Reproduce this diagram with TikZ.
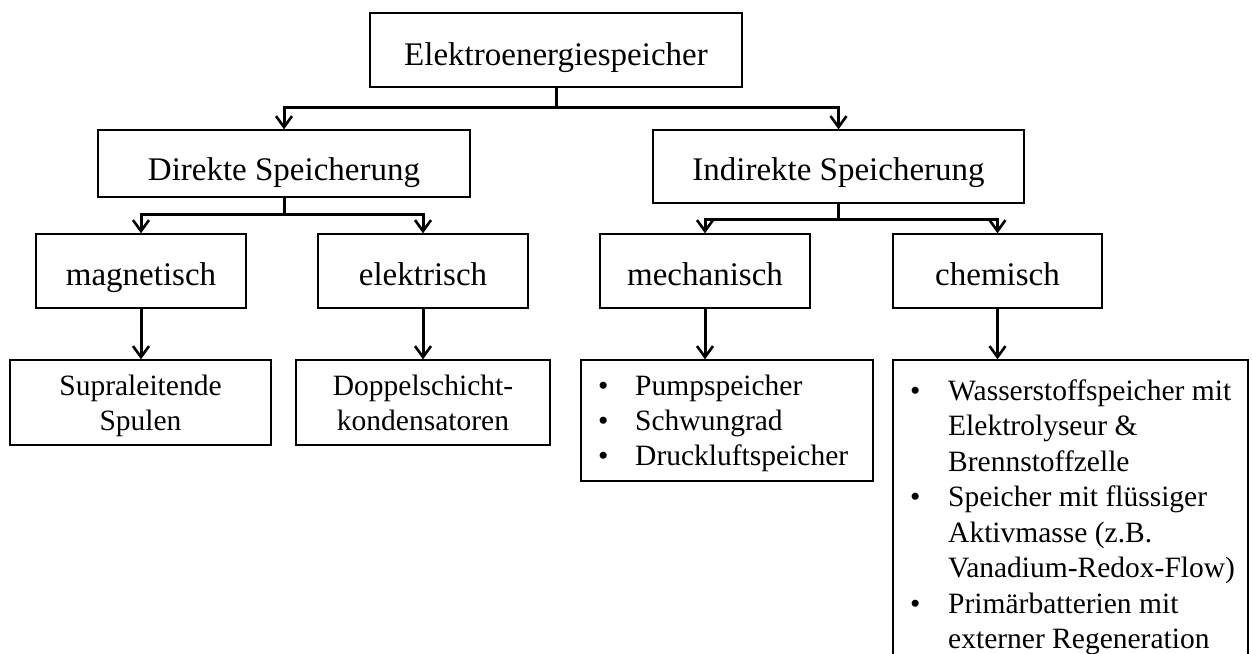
\documentclass[tikz,border=0pt]{standalone}
\usepackage{fontspec}
\setmainfont{Liberation Serif}
\usetikzlibrary{arrows.meta}
\begin{document}
\begin{tikzpicture}[x=1pt,y=-1pt,
  box/.style={draw=black,line width=1.4pt,inner sep=0pt,font=\fontsize{33}{40}\selectfont,text height=34pt,text depth=6pt},
  framebox/.style={draw=black,line width=1.4pt,inner sep=0pt},
  small/.style={inner sep=0pt,font=\fontsize{29.5}{35.5}\selectfont},
  conn/.style={line width=3pt,line join=miter,-{Straight Barb[length=11pt,width=16pt,line width=2.6pt]}},
  wire/.style={line width=3pt}]
\useasboundingbox (0,0) rectangle (1252,653);

% level 0
\node[box,minimum width=372pt,minimum height=74pt,text depth=4pt] (top) at (556,50) {Elektroenergiespeicher};
% level 1
\node[box,minimum width=372pt,minimum height=67pt,text depth=1pt] (dir) at (284,163.5) {Direkte Speicherung};
\node[box,minimum width=371pt,minimum height=73pt] (ind) at (838.5,166.5) {Indirekte Speicherung};
% level 2
\node[box,minimum width=210pt,minimum height=74pt] (mag) at (141,271) {magnetisch};
\node[box,minimum width=210pt,minimum height=74pt] (ele) at (423,271) {elektrisch};
\node[box,minimum width=210pt,minimum height=74pt] (mec) at (705,271) {mechanisch};
\node[box,minimum width=209pt,minimum height=74pt] (che) at (997.5,271) {chemisch};
% level 3 frames
\node[framebox,minimum width=261pt,minimum height=85pt] (sup) at (140.5,402.5) {};
\node[framebox,minimum width=254pt,minimum height=85pt] (dop) at (423,402.5) {};
\node[framebox,minimum width=292pt,minimum height=121pt] (pum) at (727,420.5) {};
\node[framebox,minimum width=355pt,minimum height=330pt] (chl) at (1070.5,525) {};
% level 3 texts
\node[small,anchor=base] (supt) at (140.5,395) {\begin{tabular}[t]{@{}c@{}}Supraleitende\\Spulen\end{tabular}};
\node[small,anchor=base] (dopt) at (423,395) {\begin{tabular}[t]{@{}c@{}}Doppelschicht-\\kondensatoren\end{tabular}};
\node[small,font=\fontsize{29.5}{35}\selectfont,anchor=base west] (pumt) at (598,395) {\begin{tabular}[t]{@{}p{37pt}@{}l@{}}
\textbullet & Pumpspeicher\\
\textbullet & Schwungrad\\
\textbullet & Druckluftspeicher
\end{tabular}};
\node[small,font=\fontsize{29.5}{35.5}\selectfont,anchor=base west] (chlt) at (910,400) {\begin{tabular}[t]{@{}p{38pt}@{}l@{}}
\textbullet & Wasserstoffspeicher mit\\
 & Elektrolyseur \&\\
 & Brennstoffzelle\\
\textbullet & Speicher mit flüssiger\\
 & Aktivmasse (z.B.\\
 & Vanadium-Redox-Flow)\\
\textbullet & Primärbatterien mit\\
 & externer Regeneration
\end{tabular}};

% connectors
\coordinate (j0) at (556,107);
\draw[wire] (top.south) -- (j0);
\draw[conn] (j0) -| (dir.north);
\draw[conn] (j0) -| (ind.north);

\coordinate (j1) at (284,214);
\draw[wire] (dir.south) -- (j1);
\draw[conn] (j1) -| (mag.north);
\draw[conn] (j1) -| (ele.north);

\coordinate (j2) at (838.5,219);
\draw[wire] (ind.south) -- (j2);
\draw[conn] (j2) -| (mec.north);
\draw[conn] (j2) -| (che.north);

\draw[conn] (mag.south) -- (mag.south |- sup.north);
\draw[conn] (ele.south) -- (dop.north);
\draw[conn] (mec.south) -- (mec.south |- pum.north);
\draw[conn] (che.south) -- (che.south |- chl.north);
\end{tikzpicture}
\end{document}
